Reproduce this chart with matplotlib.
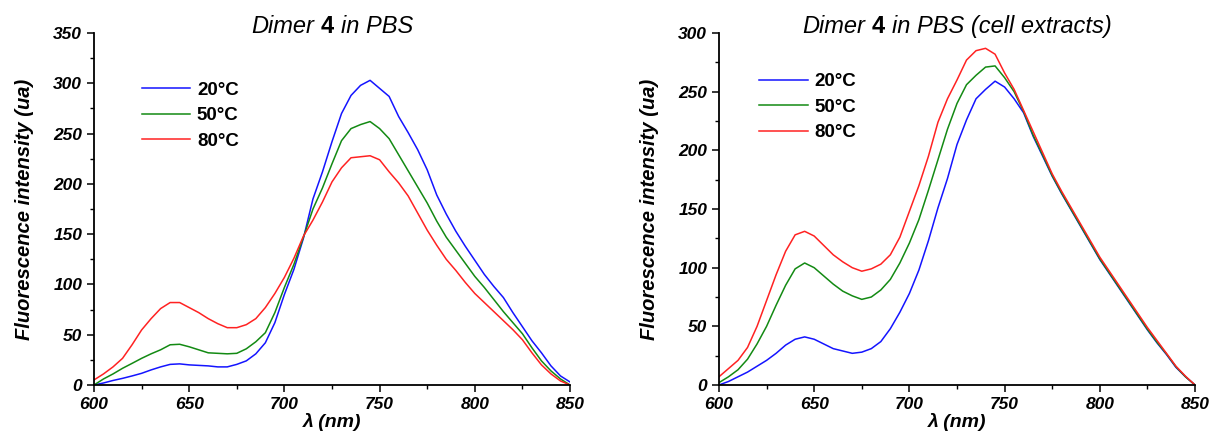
import numpy as np
import matplotlib
matplotlib.use("Agg")
import matplotlib.pyplot as plt
from matplotlib.ticker import MultipleLocator
from matplotlib.offsetbox import TextArea, HPacker, AnchoredOffsetbox

plt.rcParams["font.family"] = ["Liberation Sans", "DejaVu Sans"]

# wavelength grid (nm), read every 5 nm
wl = np.arange(600, 851, 5)

# left panel: Dimer 4 in PBS
pbs_20 = [0, 2, 4.5, 6.6, 9, 11.6, 15, 18, 20.5, 21, 20, 19.5, 19, 18, 18, 20.5, 24, 31,
          42, 62, 90, 115, 146, 185, 212, 242, 270, 288, 298, 303, 295, 287, 267, 251, 234,
          214, 189, 170, 153, 138, 124, 110, 98, 87, 72, 58, 44, 32, 19, 9, 3]
pbs_50 = [0, 6, 11, 16.6, 21.5, 26.5, 31, 35, 40, 40.5, 38, 35, 32, 31.5, 31, 31.5, 36, 43,
          52, 72, 97, 120, 147, 175, 196, 220, 243, 255, 259, 262, 255, 245, 229, 213, 197,
          181, 163, 147, 134, 121, 108, 97, 85, 73, 62, 51, 37, 24, 14, 6, 0]
pbs_80 = [5, 11, 18, 26.5, 40, 54.7, 66, 76, 82, 82, 77, 72, 66, 61, 57, 57, 60, 66,
          77, 91, 107, 126, 148, 164, 182, 202, 216, 226, 227, 228, 224, 212, 201, 188, 171,
          154, 139, 125, 114, 102, 91, 82, 73, 64, 55, 45, 32, 20, 11, 4, 0]

# right panel: Dimer 4 in PBS (cell extracts)
cell_20 = [0, 3, 7, 11, 16, 21, 27, 34, 39, 41, 39, 35, 31, 29, 27, 28, 31, 37,
           48, 62, 78, 98, 123, 151, 176, 205, 226, 244, 252, 259, 254, 244, 232, 212, 195,
           178, 163, 149, 135, 121, 107, 95, 83, 71, 59, 47, 36, 26, 15, 7, 0]
cell_50 = [2, 7, 13, 22, 35, 50, 68, 85, 99, 104, 100, 93, 86, 80, 76, 73, 75, 81,
           90, 104, 121, 141, 166, 192, 218, 240, 256, 264, 271, 272, 262, 250, 233, 213, 196,
           178.5, 163.5, 149.5, 135.5, 121.5, 107.5, 95.5, 83.5, 71.5, 59.5, 47.5, 36.5, 26.5, 15.5, 7, 0]
cell_80 = [7, 14, 21, 32, 50, 72, 94, 114, 128, 131, 127, 119, 111, 105, 100, 97, 99, 103,
           111, 126, 148, 170, 195, 224, 244, 260, 277, 285, 287, 282, 266, 252, 234, 216, 198,
           180, 165, 151, 137, 123, 109, 97, 85, 73, 61, 49, 38, 27, 16, 7.5, 0]

labels = ["20°C", "50°C", "80°C"]
colors = ["#1414ff", "#138a13", "#ff2222"]

fig = plt.figure(figsize=(12.11, 4.41), dpi=100)
ax1 = fig.add_axes([0.0776, 0.127, 0.3931, 0.798])
ax2 = fig.add_axes([0.5937, 0.127, 0.3931, 0.798])

panels = [
    (ax1, [pbs_20, pbs_50, pbs_80], 350, "in PBS", (0.100, 0.862), 14),
    (ax2, [cell_20, cell_50, cell_80], 300, "in PBS (cell extracts)", (0.084, 0.886), 14),
]

for ax, series, ymax, title_end, leg_pos, ypad in panels:
    for ys, lab, c in zip(series, labels, colors):
        ax.plot(wl, ys, color=c, lw=1.1, label=lab)
    ax.set_xlim(600, 850)
    ax.set_ylim(0, ymax)
    ax.xaxis.set_major_locator(MultipleLocator(50))
    ax.xaxis.set_minor_locator(MultipleLocator(25))
    ax.yaxis.set_major_locator(MultipleLocator(50))
    ax.yaxis.set_minor_locator(MultipleLocator(25))
    for s in ["top", "right"]:
        ax.spines[s].set_visible(False)
    for s in ["left", "bottom"]:
        ax.spines[s].set_linewidth(1.3)
    ax.tick_params(which="major", direction="out", length=5, width=1.1, labelsize=12.5)
    ax.tick_params(which="minor", direction="out", length=3, width=1.0)
    for t in ax.get_xticklabels() + ax.get_yticklabels():
        t.set_fontweight("bold")
        t.set_fontstyle("italic")
    ax.set_xlabel("λ (nm)", fontsize=14, fontweight="bold", fontstyle="italic", labelpad=1)
    ax.set_ylabel("Fluorescence intensity (ua)", fontsize=14.5, fontweight="bold",
                  fontstyle="italic", labelpad=ypad)

    # title with a bold "4" in the middle of italic text
    parts = [TextArea("Dimer", textprops=dict(fontsize=17, fontstyle="italic")),
             TextArea("4", textprops=dict(fontsize=17, fontweight="bold")),
             TextArea(title_end, textprops=dict(fontsize=17, fontstyle="italic"))]
    box = HPacker(children=parts, align="baseline", pad=0, sep=5)
    anchored = AnchoredOffsetbox(loc="lower center", child=box, pad=0, frameon=False,
                                 bbox_to_anchor=(0.5, 0.985), bbox_transform=ax.transAxes,
                                 borderpad=0)
    ax.add_artist(anchored)

    ax.legend(loc="upper left", bbox_to_anchor=leg_pos, frameon=False,
              borderpad=0, borderaxespad=0, handlelength=2.6, handletextpad=0.35,
              labelspacing=0.45, prop={"size": 13.5, "weight": "bold"})

fig.savefig("out.png", dpi=100)
